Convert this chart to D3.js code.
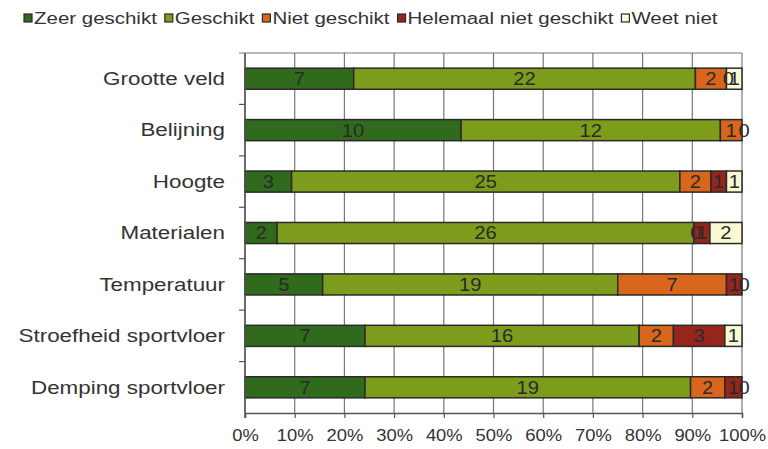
<!DOCTYPE html>
<html>
<head>
<meta charset="utf-8">
<script src="https://cdn.jsdelivr.net/npm/d3@7"></script>
<style>
  body { margin: 0; background: #fff; }
  text { font-family: "Liberation Sans", Arial, sans-serif; fill: #333; }
</style>
</head>
<body>
<div id="chart"></div>
<script>
// data
var categories = ["Grootte veld", "Belijning", "Hoogte", "Materialen", "Temperatuur", "Stroefheid sportvloer", "Demping sportvloer"]
var series = ["Zeer geschikt", "Geschikt", "Niet geschikt", "Helemaal niet geschikt", "Weet niet"]
var zeerGeschikt = [7, 10, 3, 2, 5, 7, 7]
var geschikt = [22, 12, 25, 26, 19, 16, 19]
var nietGeschikt = [2, 1, 2, 0, 7, 2, 2]
var helemaalNiet = [0, 0, 1, 1, 1, 3, 1]
var weetNiet = [1, null, 1, 2, 0, 1, 0]
var colors = ["#2f6a1d", "#7d9c1c", "#d8671d", "#96261c", "#fbf9d4"]
var ticks = [0, 0.1, 0.2, 0.3, 0.4, 0.5, 0.6, 0.7, 0.8, 0.9, 1]

var w = 768
var h = 449
var margin = {top: 53, right: 26, bottom: 36, left: 245}
var stretch = 1.28 // the reference text is wider than normal

var svg = d3.select("#chart")
    .append("svg")
    .attr("width", w)
    .attr("height", h)

var rows = categories.map(function(c, i){
    return {cat: c, vals: [zeerGeschikt[i], geschikt[i], nietGeschikt[i], helemaalNiet[i], weetNiet[i]]}
})

var x = d3.scaleLinear()
    .domain([0, 1])
    .range([margin.left, w - margin.right])

var y = d3.scaleBand()
    .domain(categories)
    .range([margin.top, h - margin.bottom])
    .paddingInner(0.59)
    .paddingOuter(0.295)

var yb = d3.scaleBand()
    .domain(categories)
    .range([margin.top, h - margin.bottom])

//gridlines
svg.append("g")
    .selectAll("line")
    .data(ticks)
    .enter()
    .append("line")
    .attr("x1", function(d){ return x(d) })
    .attr("x2", function(d){ return x(d) })
    .attr("y1", margin.top)
    .attr("y2", h - margin.bottom)
    .attr("stroke", "#777")
    .attr("stroke-width", 1.2)

svg.append("line")
    .attr("x1", margin.left - 6)
    .attr("x2", x(1))
    .attr("y1", margin.top)
    .attr("y2", margin.top)
    .attr("stroke", "#777")
    .attr("stroke-width", 1.2)

//bars
rows.forEach(function(r){
    var total = d3.sum(r.vals)
    var acc = 0
    var segs = []
    r.vals.forEach(function(v, k){
        if (v === null) return
        segs.push({k: k, v: v, x0: acc / total, x1: (acc + v) / total})
        acc += v
    })
    var g = svg.append("g")
    g.selectAll("rect")
        .data(segs.filter(function(s){ return s.v > 0 }))
        .enter()
        .append("rect")
        .attr("x", function(s){ return x(s.x0) })
        .attr("width", function(s){ return x(s.x1) - x(s.x0) })
        .attr("y", y(r.cat))
        .attr("height", y.bandwidth())
        .attr("fill", function(s){ return colors[s.k] })
        .attr("stroke", "#2a2a2a")
        .attr("stroke-width", 1.5)
    g.selectAll("text")
        .data(segs)
        .enter()
        .append("text")
        .attr("transform", function(s){
            var cx = (x(s.x0) + x(s.x1)) / 2
            if (s.v === 0) cx = x(s.x0) + 2
            return "translate(" + cx + "," + (y(r.cat) + y.bandwidth() / 2) + ") scale(1.12,1)"
        })
        .attr("dy", "0.36em")
        .attr("text-anchor", "middle")
        .style("font-size", "18px")
        .style("fill", "#2a2a2a")
        .text(function(s){ return s.v })
})

//x axis
var xAxis = svg.append("g")
    .attr("transform", "translate(0," + (h - margin.bottom) + ")")
    .call(d3.axisBottom(x).tickValues(ticks).tickFormat(d3.format(".0%")).tickSize(5).tickPadding(12))
xAxis.select(".domain").attr("stroke", "#555").attr("stroke-width", 1.5)
xAxis.selectAll("line").attr("stroke", "#555").attr("stroke-width", 1.2)
xAxis.selectAll("text")
    .attr("transform", "scale(1.15,1)")
    .style("font-size", "16px")
    .style("fill", "#333")
    .style("font-family", "Liberation Sans, Arial, sans-serif")

//y axis line with ticks at band edges
svg.append("line")
    .attr("x1", margin.left)
    .attr("x2", margin.left)
    .attr("y1", margin.top)
    .attr("y2", h - margin.bottom + 5)
    .attr("stroke", "#555")
    .attr("stroke-width", 1.5)

svg.append("g")
    .selectAll("line")
    .data(categories.slice(1))
    .enter()
    .append("line")
    .attr("x1", margin.left - 6)
    .attr("x2", margin.left)
    .attr("y1", function(c){ return yb(c) })
    .attr("y2", function(c){ return yb(c) })
    .attr("stroke", "#555")
    .attr("stroke-width", 1.2)

svg.append("g")
    .selectAll("text")
    .data(categories)
    .enter()
    .append("text")
    .attr("transform", function(c){
        return "translate(" + (margin.left - 20) + "," + (yb(c) + yb.bandwidth() / 2) + ") scale(" + stretch + ",1)"
    })
    .attr("dy", "0.36em")
    .attr("text-anchor", "end")
    .style("font-size", "17.5px")
    .text(function(c){ return c })

//legend
var lx = 24
series.forEach(function(s, k){
    svg.append("rect")
        .attr("x", lx)
        .attr("y", 14)
        .attr("width", 8)
        .attr("height", 8)
        .attr("fill", colors[k])
        .attr("stroke", "#2a2a2a")
        .attr("stroke-width", 1.2)
    var t = svg.append("text")
        .attr("transform", "translate(" + (lx + 10) + ",18) scale(" + stretch + ",1)")
        .attr("dy", "0.36em")
        .style("font-size", "16px")
        .text(s)
    lx += 10 + t.node().getComputedTextLength() * stretch + 8
})
</script>
</body>
</html>
